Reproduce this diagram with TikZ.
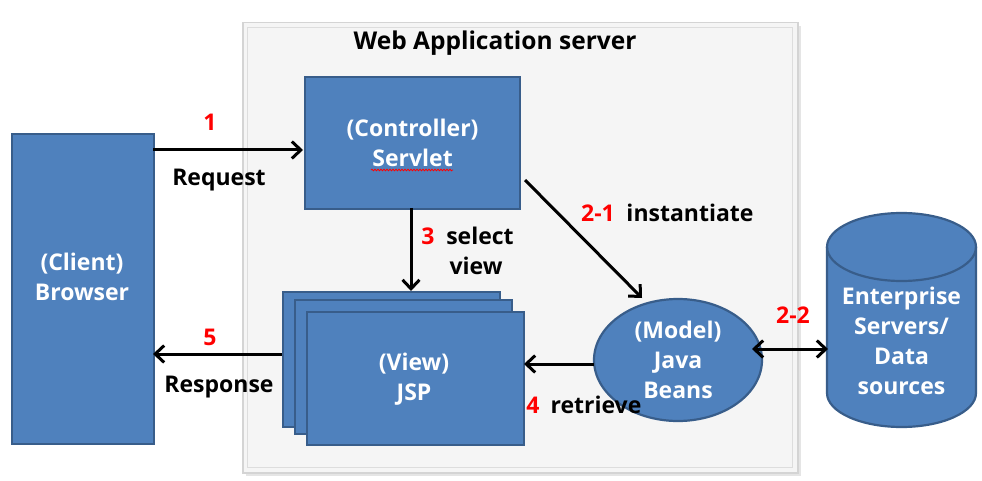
\documentclass[tikz,border=0pt]{standalone}
\usepackage{fontspec}
\setmainfont{Open Sans}
\usetikzlibrary{arrows.meta,shapes.geometric,decorations.pathmorphing}
\definecolor{boxfill}{HTML}{4F81BD}
\definecolor{boxline}{HTML}{385D8A}
\definecolor{srvfill}{HTML}{F5F5F5}
\definecolor{srvline}{HTML}{D4D4D4}
\definecolor{numred}{HTML}{FF0000}
\newcommand{\bigfont}{\bfseries\fontsize{23}{30}\selectfont}
\tikzset{
  blue box/.style={draw=boxline, line width=2.2pt, fill=boxfill, text=white, font=\bigfont, align=center},
  white text/.style={text=white, font=\bigfont, align=center, inner sep=0pt},
  lbl/.style={font=\bigfont, text=black, inner sep=0pt},
  num/.style={font=\bigfont, text=numred, inner sep=0pt},
  barb/.tip={Straight Barb[length=9pt,width=17pt,line width=3pt]},
  conn/.style={line width=3pt, -barb},
}
\begin{document}
\begin{tikzpicture}[x=1pt,y=-1pt]
\useasboundingbox (0,0) rectangle (982,481);
\fill[white] (0,0) rectangle (982,481);
% server box
\fill[black!10] (246,26) rectangle (801,476);
\node[draw=srvline, line width=1.5pt, fill=srvfill, minimum width=555pt, minimum height=450pt, anchor=north west, inner sep=0pt] (server) at (242,22) {};
\draw[srvline!80, line width=0.8pt] (247,27) rectangle (792,467);
\node[lbl, font=\bfseries\fontsize{24.5}{28}\selectfont] (title) at (495,43) {Web Application server};
% boxes
\node[blue box, minimum width=142pt, minimum height=310pt, anchor=north west, inner sep=0pt] (browser) at (11,133) {};
\node[white text] (browsertext) at (82,277) {(Client)\\Browser};
\node[blue box, minimum width=215pt, minimum height=132pt, anchor=north west, inner sep=0pt] (ctrl) at (304,76) {(Controller)\\Servlet};
\draw[numred, line width=0.8pt, decorate, decoration={snake, amplitude=0.8pt, segment length=3pt}] (371,170) -- (453,170);
\node[blue box, minimum width=217pt, minimum height=135pt, anchor=north west, inner sep=0pt] (jsp1) at (282,291) {};
\node[blue box, minimum width=217pt, minimum height=134pt, anchor=north west, inner sep=0pt] (jsp2) at (294,299) {};
\node[blue box, minimum width=217pt, minimum height=133pt, anchor=north west, inner sep=0pt] (jsp) at (306,311) {};
\node[white text] (jsptext) at (414,379) {(View)\\JSP};
\node[blue box, ellipse, minimum width=168pt, minimum height=122pt, inner sep=0pt] (model) at (678,360) {(Model)\\Java\\Beans};
% database cylinder
\draw[boxline, line width=2.2pt, fill=boxfill] (827,247) -- (827,393) arc[start angle=180, end angle=0, x radius=74.5, y radius=34] -- (976,247) arc[start angle=360, end angle=180, x radius=74.5, y radius=34] -- cycle;
\draw[boxline, line width=2.2pt] (827,247) arc[start angle=180, end angle=0, x radius=74.5, y radius=34];
\node[white text] (db) at (901.5,341) {Enterprise\\Servers/\\Data\\sources};
% connectors
\coordinate (c1s) at (153,150);
\coordinate (c1e) at (303,150);
\draw[conn] (c1s) -- (c1e);
\node[num] (n1) at (210,122) {1};
\node[lbl] (l1) at (219,180) {Request};

\coordinate (c3s) at (411,208);
\coordinate (c3e) at (411,291);
\draw[conn] (c3s) -- (c3e);
\node[num] (n3) at (428,236) {3};
\node[lbl] (l3a) at (480,236) {select};
\node[lbl] (l3b) at (476,266) {view};

\coordinate (c21s) at (525,180);
\coordinate (c21e) at (642,298);
\draw[conn] (c21s) -- (c21e);
\node[num] (n21) at (598,213) {2-1};
\node[lbl] (l21) at (690,213) {instantiate};

\coordinate (c22s) at (752,349);
\coordinate (c22e) at (828,349);
\draw[line width=3pt, barb-barb] (c22s) -- (c22e);
\node[num] (n22) at (793,315) {2-2};

\coordinate (c4s) at (594,364);
\coordinate (c4e) at (524,364);
\draw[conn] (c4s) -- (c4e);
\node[num] (n4) at (533,405) {4};
\node[lbl] (l4) at (596,405) {retrieve};

\coordinate (c5s) at (282,354);
\coordinate (c5e) at (153,354);
\draw[conn] (c5s) -- (c5e);
\node[num] (n5) at (210,337) {5};
\node[lbl] (l5) at (219,387) {Response};
\end{tikzpicture}
\end{document}
